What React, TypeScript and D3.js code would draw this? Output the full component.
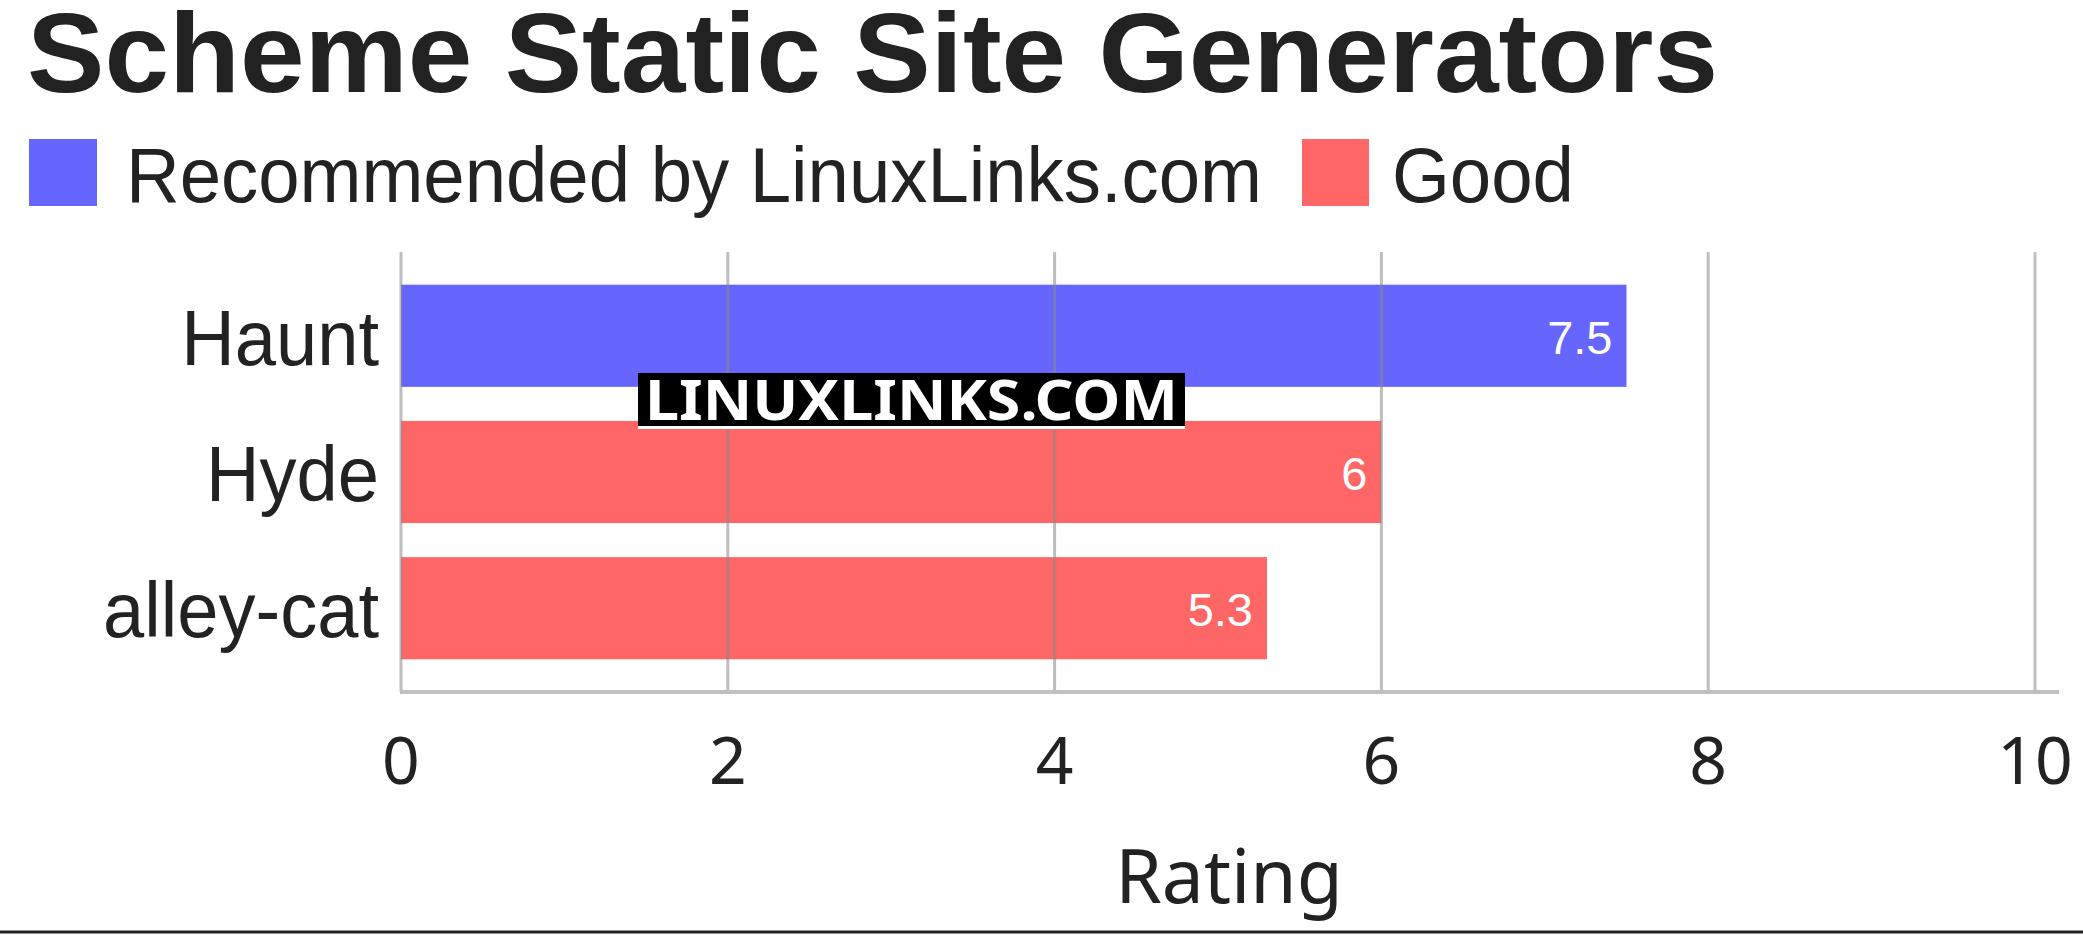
import React, { useEffect } from "react";
import * as d3 from "d3";

const categories = ["Haunt", "Hyde", "alley-cat"];
const ratings = [7.5, 6, 5.3];
const groups = ["Recommended by LinuxLinks.com", "Good", "Good"];
const legendItems = ["Recommended by LinuxLinks.com", "Good"];
const legendColors = ["#6666ff", "#ff6666"];
const xTicks = [0, 2, 4, 6, 8, 10];
const title = "Scheme Static Site Generators";
const axisTitle = "Rating";

const W = 2083;
const H = 935;

export default function App() {
  useEffect(() => {
    document.body.style.margin = "0";
  }, []);

  const x = d3.scaleLinear().domain([0, 10]).range([401, 2035]);
  const y = d3
    .scaleBand<string>()
    .domain(categories)
    .range([252, 692])
    .paddingInner(0.25)
    .paddingOuter(0.24);
  const color = d3.scaleOrdinal<string, string>().domain(legendItems).range(legendColors);

  const sans = "'Liberation Sans', Arial, sans-serif";
  const noto = "'Noto Sans', 'Open Sans', sans-serif";
  const bh = y.bandwidth();
  const labelScale = 0.95;

  return (
    <svg width={W} height={H} style={{ display: "block" }}>
      <rect x={0} y={0} width={W} height={H} fill="#ffffff" />
      <text x={27} y={92} fontFamily={sans} fontWeight="bold" fontSize={114} fill="#222222" textLength={1691} lengthAdjust="spacingAndGlyphs">
        {title}
      </text>
      {/* legend */}
      <rect x={29} y={139} width={68} height={67} fill={legendColors[0]} />
      <text x={126} y={202} fontFamily={sans} fontSize={78} fill="#222222" textLength={1136} lengthAdjust="spacingAndGlyphs">
        {legendItems[0]}
      </text>
      <rect x={1302} y={139} width={67} height={67} fill={legendColors[1]} />
      <text x={1392} y={202} fontFamily={sans} fontSize={78} fill="#222222" textLength={182} lengthAdjust="spacingAndGlyphs">
        {legendItems[1]}
      </text>

      {/* bars */}
      {categories.map((c, i) => (
        <rect
          key={c}
          x={x(0)}
          y={y(c)!}
          width={x(ratings[i]) - x(0)}
          height={bh}
          fill={color(groups[i])}
        />
      ))}

      {/* gridlines */}
      {xTicks.map((t) => (
        <line
          key={t}
          x1={x(t)}
          x2={x(t)}
          y1={252}
          y2={692}
          stroke="#888888"
          strokeOpacity={0.55}
          strokeWidth={3}
        />
      ))}
      {/* axis baseline */}
      <line x1={x(0) - 1} x2={2059} y1={692} y2={692} stroke="#c0c0c0" strokeWidth={4} />

      {/* value labels */}
      {categories.map((c, i) => (
        <text
          key={c}
          x={x(ratings[i]) - 14}
          y={y(c)! + bh / 2 + 18}
          textAnchor="end"
          fontFamily={sans}
          fontSize={47}
          fill="#ffffff"
        >
          {String(ratings[i])}
        </text>
      ))}

      {/* category labels */}
      {categories.map((c) => (
        <text
          key={c}
          transform={`translate(379,${y(c)! + bh / 2 + 29}) scale(${labelScale},1)`}
          textAnchor="end"
          fontFamily={sans}
          fontSize={78}
          fill="#222222"
        >
          {c}
        </text>
      ))}

      {/* tick labels */}
      {xTicks.map((t) => (
        <text
          key={t}
          x={x(t)}
          y={784}
          textAnchor="middle"
          fontFamily={noto}
          fontSize={66}
          fill="#222222"
        >
          {String(t)}
        </text>
      ))}
      <text x={1229} y={903} textAnchor="middle" fontFamily={noto} fontSize={75} fill="#222222">
        {axisTitle}
      </text>

      {/* watermark */}
      <rect x={638} y={373} width={547} height={56} fill="#000000" />
      <rect x={638} y={426} width={547} height={3} fill="#ffffff" />
      <text
        x={645}
        y={420}
        fontFamily={noto}
        fontWeight="bold"
        fontSize={56}
        fill="#ffffff"
        textLength={533}
        lengthAdjust="spacingAndGlyphs"
      >
        LINUXLINKS.COM
      </text>

      {/* bottom rule */}
      <line x1={0} x2={W} y1={932} y2={932} stroke="#222222" strokeWidth={3} />
    </svg>
  );
}
